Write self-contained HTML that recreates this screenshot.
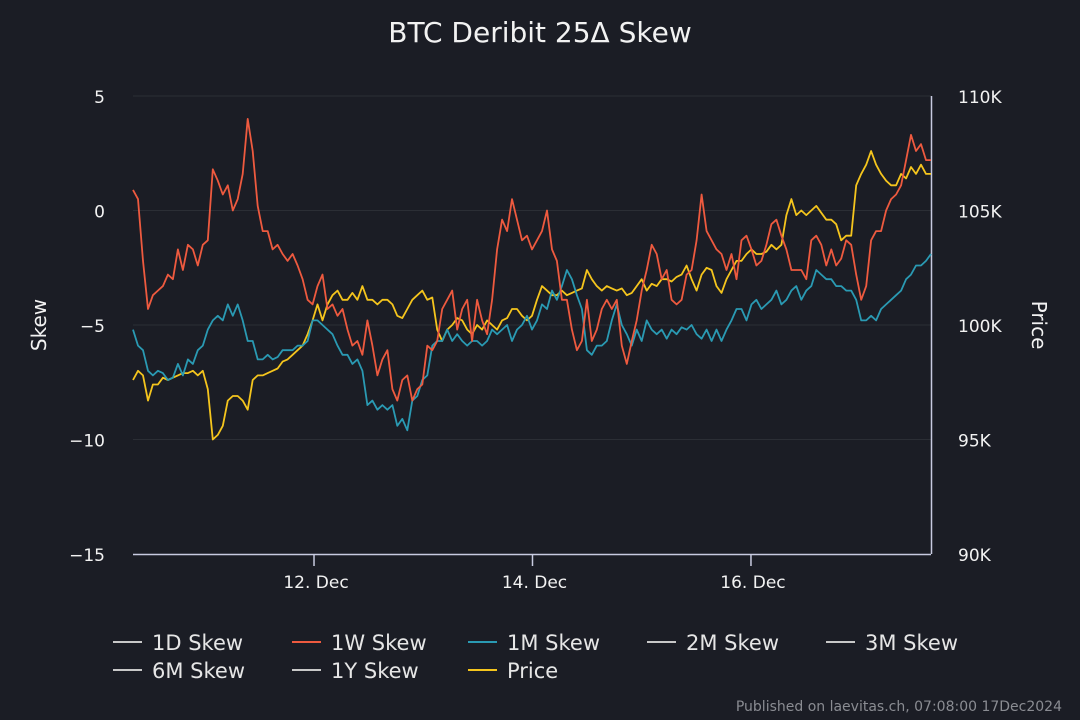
<!DOCTYPE html>
<html><head><meta charset="utf-8"><style>
html,body{margin:0;padding:0;background:#1b1d25;}
svg{display:block;font-family:"DejaVu Sans","Liberation Sans",sans-serif;}
</style></head><body>
<svg id="chart" width="1080" height="720" viewBox="0 0 1080 720" xmlns="http://www.w3.org/2000/svg">
<rect width="1080" height="720" fill="#1b1d25"/>
<text x="540" y="42" text-anchor="middle" fill="#f2f2f2" font-size="28">BTC Deribit 25Δ Skew</text>
<g id="grid"></g>
<g id="axes"></g>
<g id="series"></g>
<text transform="translate(46,325) rotate(-90)" text-anchor="middle" fill="#f2f2f2" font-size="20">Skew</text>
<text transform="translate(1032,325) rotate(90)" text-anchor="middle" fill="#f2f2f2" font-size="20">Price</text>
<g id="legend"></g>
<text x="1062" y="711" text-anchor="end" fill="#8a8c92" font-size="14">Published on laevitas.ch, 07:08:00 17Dec2024</text>
</svg>
<script>
const skewTicks=[5,0,-5,-10,-15];
const priceTicks=[110000,105000,100000,95000,90000];
const priceTickLabels=["110K","105K","100K","95K","90K"];
const dateTicks=[2,4,6];
const dateTickLabels=["12. Dec","14. Dec","16. Dec"];
const timeStart=0.343, timeEnd=7.648;
const skew1W=[0.9,0.5,-2.2,-4.3,-3.7,-3.5,-3.3,-2.8,-3.0,-1.7,-2.6,-1.5,-1.7,-2.4,-1.5,-1.3,1.8,1.3,0.7,1.1,0.0,0.5,1.6,4.0,2.6,0.2,-0.9,-0.9,-1.7,-1.5,-1.9,-2.2,-1.9,-2.4,-3.0,-3.9,-4.1,-3.3,-2.8,-4.3,-4.1,-4.6,-4.3,-5.2,-5.9,-5.7,-6.3,-4.8,-5.9,-7.2,-6.5,-6.1,-7.8,-8.3,-7.4,-7.2,-8.3,-7.8,-7.6,-5.9,-6.1,-5.7,-4.3,-3.9,-3.5,-5.2,-4.3,-3.9,-5.7,-3.9,-4.8,-5.4,-3.9,-1.7,-0.4,-0.9,0.5,-0.4,-1.3,-1.1,-1.7,-1.3,-0.9,0.0,-1.7,-2.2,-3.9,-3.9,-5.2,-6.1,-5.7,-3.9,-5.7,-5.2,-4.3,-3.9,-4.3,-3.9,-5.9,-6.7,-5.7,-4.8,-3.5,-2.6,-1.5,-1.9,-3.0,-2.6,-3.9,-4.1,-3.9,-2.8,-2.6,-1.3,0.7,-0.9,-1.3,-1.7,-1.9,-2.6,-1.9,-3.0,-1.3,-1.1,-1.7,-2.4,-2.2,-1.5,-0.6,-0.4,-1.1,-1.7,-2.6,-2.6,-2.6,-3.0,-1.3,-1.1,-1.5,-2.4,-1.7,-2.4,-2.1,-1.3,-1.5,-2.8,-3.9,-3.3,-1.3,-0.9,-0.9,0.0,0.5,0.7,1.1,2.2,3.3,2.6,2.9,2.2,2.2];
const skew1M=[-5.2,-5.9,-6.1,-7.0,-7.2,-7.0,-7.1,-7.4,-7.3,-6.7,-7.2,-6.5,-6.7,-6.1,-5.9,-5.2,-4.8,-4.6,-4.8,-4.1,-4.6,-4.1,-4.8,-5.7,-5.7,-6.5,-6.5,-6.3,-6.5,-6.4,-6.1,-6.1,-6.1,-5.9,-5.9,-5.7,-4.8,-4.8,-5.0,-5.2,-5.4,-5.9,-6.3,-6.3,-6.7,-6.5,-7.0,-8.5,-8.3,-8.7,-8.5,-8.7,-8.5,-9.4,-9.1,-9.6,-8.3,-8.1,-7.4,-7.2,-5.9,-5.7,-5.7,-5.2,-5.7,-5.4,-5.7,-5.9,-5.7,-5.7,-5.9,-5.7,-5.2,-5.4,-5.2,-5.0,-5.7,-5.2,-5.0,-4.6,-5.2,-4.8,-4.1,-4.3,-3.5,-3.9,-3.3,-2.6,-3.0,-3.7,-4.3,-6.1,-6.3,-5.9,-5.9,-5.7,-4.8,-4.1,-5.0,-5.4,-5.9,-5.2,-5.7,-4.8,-5.2,-5.4,-5.2,-5.6,-5.2,-5.4,-5.1,-5.2,-5.0,-5.4,-5.6,-5.2,-5.7,-5.2,-5.7,-5.2,-4.8,-4.3,-4.3,-4.8,-4.1,-3.9,-4.3,-4.1,-3.9,-3.5,-4.1,-3.9,-3.5,-3.3,-3.9,-3.5,-3.3,-2.6,-2.8,-3.0,-3.0,-3.3,-3.3,-3.5,-3.5,-3.9,-4.8,-4.8,-4.6,-4.8,-4.3,-4.1,-3.9,-3.7,-3.5,-3.0,-2.8,-2.4,-2.4,-2.2,-1.9];
const priceK=[97.6,98.0,97.8,96.7,97.4,97.4,97.7,97.6,97.7,97.8,97.9,97.9,98.0,97.8,98.0,97.2,95.0,95.2,95.6,96.7,96.9,96.9,96.7,96.3,97.6,97.8,97.8,97.9,98.0,98.1,98.4,98.5,98.7,98.9,99.1,99.6,100.2,100.9,100.2,100.9,101.3,101.5,101.1,101.1,101.4,101.1,101.7,101.1,101.1,100.9,101.1,101.1,100.9,100.4,100.3,100.7,101.1,101.3,101.5,101.1,101.2,99.8,99.3,99.8,100.0,100.3,100.2,99.8,99.6,100.0,99.8,100.2,100.0,99.8,100.2,100.3,100.7,100.7,100.4,100.2,100.4,101.1,101.7,101.5,101.3,101.3,101.5,101.3,101.4,101.5,101.6,102.4,102.0,101.7,101.5,101.7,101.6,101.5,101.6,101.3,101.4,101.7,102.0,101.5,101.8,101.7,102.0,102.0,101.9,102.1,102.2,102.6,102.0,101.5,102.2,102.5,102.4,101.7,101.4,102.0,102.4,102.8,102.8,103.1,103.3,103.1,103.1,103.2,103.5,103.3,103.5,104.8,105.5,104.8,105.0,104.8,105.0,105.2,104.9,104.6,104.6,104.4,103.7,103.9,103.9,106.1,106.6,107.0,107.6,107.0,106.6,106.3,106.1,106.1,106.6,106.4,106.9,106.6,107.0,106.6,106.6];

const NS="http://www.w3.org/2000/svg";
const L=133,R=931,T=96,B=554;
const yS=v=>T+(5-v)*(B-T)/20;
const yP=p=>T+(110000-p)*(B-T)/20000;
const xT=t=>L+(t-timeStart)*(R-L)/(timeEnd-timeStart);
function mk(tag,attrs,parent){const e=document.createElementNS(NS,tag);for(const k in attrs)e.setAttribute(k,attrs[k]);parent.appendChild(e);return e;}
const grid=document.getElementById('grid'),axes=document.getElementById('axes'),series=document.getElementById('series'),legend=document.getElementById('legend');
skewTicks.forEach(v=>{
  const y=yS(v);
  if(v>-15){const g=mk('line',{x1:L,x2:R,y1:y,y2:y,stroke:'#2b2e35','stroke-width':1},grid);
  
  }
  const t=mk('text',{x:105,y:y+7,'text-anchor':'end',fill:'#f2f2f2','font-size':17},axes);
  t.textContent=v<0?'\u2212'+Math.abs(v):String(v);
  
  
});
priceTicks.forEach((p,i)=>{
  const t=mk('text',{x:958,y:yP(p)+7,fill:'#f2f2f2','font-size':17},axes);
  t.textContent=priceTickLabels[i];
  
  
});
const xa=mk('line',{x1:L,x2:R,y1:B+0.5,y2:B+0.5,stroke:'#c8cbe0','stroke-width':1.5},axes);


const ra=mk('line',{x1:R+0.5,x2:R+0.5,y1:T,y2:B,stroke:'#c8cbe0','stroke-width':1.5},axes);


dateTicks.forEach((d,i)=>{
  const x=xT(d);
  const tk=mk('line',{x1:x,x2:x,y1:B,y2:B+12,stroke:'#c8cbe0','stroke-width':1.5},axes);
  
  
  const t=mk('text',{x:x+2,y:588,'text-anchor':'middle',fill:'#f2f2f2','font-size':17},axes);
  t.textContent=dateTickLabels[i];
  
  
});
function path(arr,yf,color,name){
  const n=arr.length;
  const d=arr.map((v,i)=>(i?'L':'M')+xT(timeStart+i*(timeEnd-timeStart)/(n-1)).toFixed(1)+','+yf(v).toFixed(1)).join('');
  const p=mk('path',{d:d,fill:'none',stroke:color,'stroke-width':1.8,'stroke-linejoin':'round'},series);
  
  
}
path(priceK.map(v=>v*1000),yP,'#f5c51d','price-line');
path(skew1M,yS,'#2a9ab3','skew-1m-line');
path(skew1W,yS,'#ee5a3f','skew-1w-line');
const legendItems=[["1D Skew","#c8c8c8",113,642],["1W Skew","#ee5a3f",292,642],["1M Skew","#2a9ab3",468,642],["2M Skew","#c8c8c8",647,642],["3M Skew","#c8c8c8",826,642],["6M Skew","#c8c8c8",113,670],["1Y Skew","#c8c8c8",292,670],["Price","#f5c51d",468,670]];
legendItems.forEach(it=>{
  const g=mk('g',{},legend);
  
  
  mk('line',{x1:it[2],x2:it[2]+29,y1:it[3],y2:it[3],stroke:it[1],'stroke-width':2},g);
  const t=mk('text',{x:it[2]+39,y:it[3]+8,fill:'#e6e6e6','font-size':21},g);
  t.textContent=it[0];
});
</script>
</body></html>
